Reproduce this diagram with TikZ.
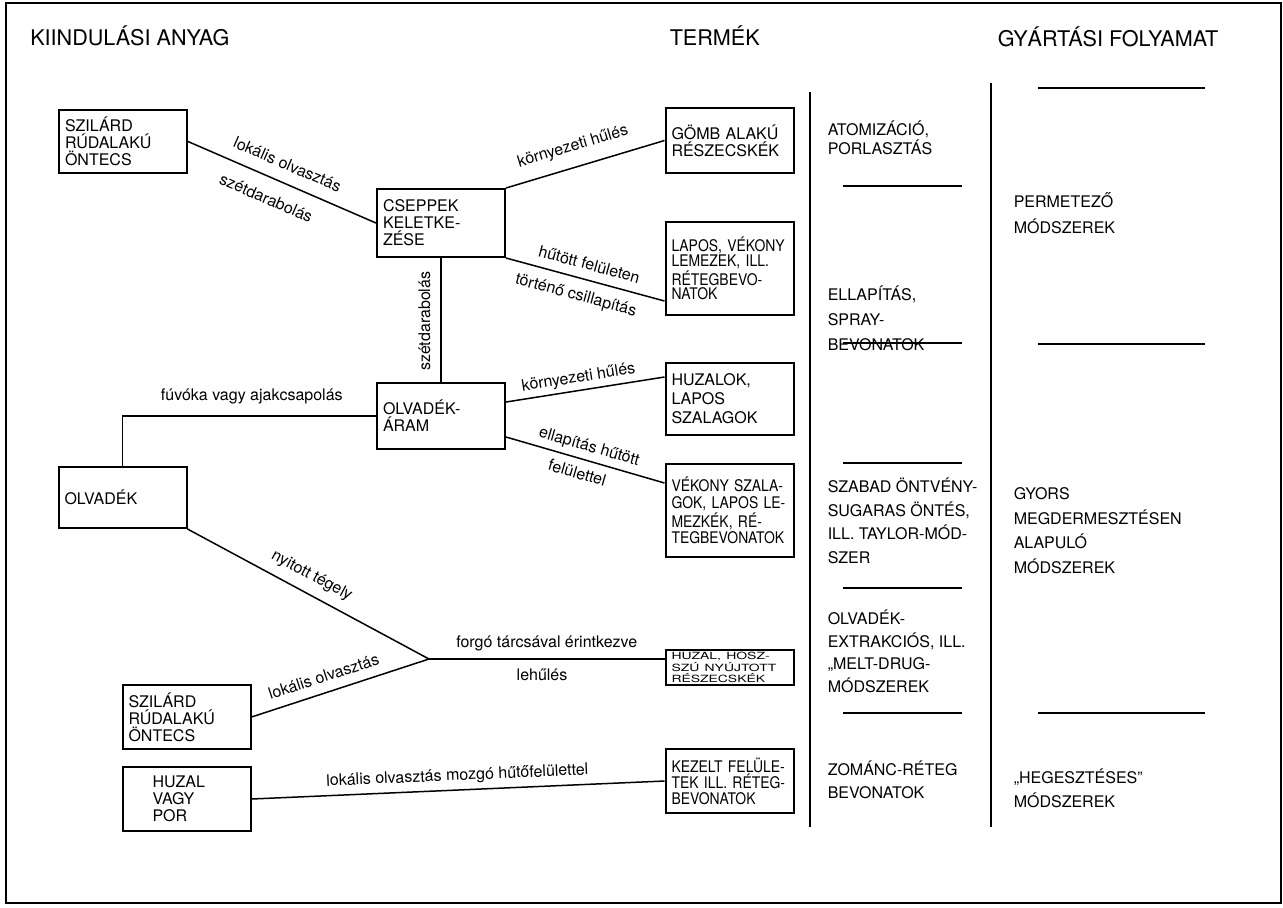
\documentclass[tikz,border=0pt]{standalone}
\usepackage{fontspec}
\setmainfont{TeX Gyre Heros}
\newfontfamily\narrowfont{TeX Gyre Heros}[FakeStretch=0.87]
\usepackage{graphicx}

\newcommand{\labfont}{\fontsize{8}{9}\selectfont}
\newcommand{\boxfont}{\fontsize{8}{8.5}\selectfont}
\newcommand{\headfont}{\fontsize{10.8}{12}\selectfont}

\begin{document}
\begin{tikzpicture}[x=0.5pt,y=-0.5pt,line width=0.75pt,
  doboz/.style={draw,line width=1pt,inner xsep=3pt,inner ysep=2pt,text width=58pt,align=left,font=\boxfont},
  szuk/.style={doboz,font=\narrowfont\fontsize{8}{#1}\selectfont},
  szuk/.default=8.3pt,
  lab/.style={font=\labfont,inner sep=1pt,sloped},
  cim/.style={font=\headfont,anchor=base west,inner sep=0pt},
  oszlop/.style={align=left,anchor=base west,inner sep=0pt,font=\fontsize{8}{#1}\selectfont},
  oszlop/.default=11.7pt]
  \useasboundingbox (0,0) rectangle (1283,907);
  \draw[line width=1.2pt] (6,3) rectangle (1281,903);

  % headings
  \node[cim] (h1) at (29.5,45) {KIINDULÁSI ANYAG};
  \node[cim] (h2) at (669,45) {TERMÉK};
  \node[cim] (h3) at (997,46) {GYÁRTÁSI FOLYAMAT};

  % starting materials and intermediates
  \node[doboz,minimum height=31.5pt] (szil1) at (123,141.5) {SZILÁRD\\RÚDALAKÚ\\ÖNTECS};
  \node[doboz,minimum height=34pt] (csep) at (441,223) {CSEPPEK\\KELETKE-\\ZÉSE};
  \node[doboz,minimum height=33pt] (aram) at (441,416) {OLVADÉK-\\ÁRAM};
  \node[doboz,minimum height=30.5pt] (olv) at (122.5,497.5) {OLVADÉK};
  \node[doboz,minimum height=32pt] (szil2) at (186.5,717) {SZILÁRD\\RÚDALAKÚ\\ÖNTECS};
  \node[doboz,minimum height=32pt] (huzpor) at (186.5,799)
    {\hspace*{12pt}HUZAL\\\hspace*{12pt}VAGY\\\hspace*{12pt}POR};
  \coordinate (jn) at (429,659);

  % products
  \node[doboz,minimum height=32.5pt] (gomb) at (729.5,140.5) {GÖMB ALAKÚ\\RÉSZECSKÉK};
  \node[szuk=7.3pt,minimum height=46.5pt] (lapos) at (729.5,268.5) {LAPOS, VÉKONY\\LEMEZEK, ILL.\\RÉTEGBEVO-\\NATOK};
  \node[doboz,minimum height=36pt,font=\fontsize{8}{9.5}\selectfont] (huzalok) at (729.5,399) {HUZALOK,\\LAPOS\\SZALAGOK};
  \node[szuk,minimum height=46.5pt] (vekony) at (729.5,510.5) {VÉKONY SZALA-\\GOK, LAPOS LE-\\MEZKÉK, RÉ-\\TEGBEVONATOK};
  \node[doboz,minimum height=17.5pt,inner ysep=0pt] (huzal) at (729.5,667.5)
    {\scalebox{1}[0.62]{\parbox{58pt}{\narrowfont\fontsize{8}{5.8}\selectfont HUZAL, HOSZ-\\SZÚ NYÚJTOTT\\RÉSZECSKÉK}}};
  \node[szuk=8pt,minimum height=32pt] (kezelt) at (729.5,781) {KEZELT FELÜLE-\\TEK ILL. RÉTEG-\\BEVONATOK};

  % connectors
  \draw (szil1.east) -- (csep.west)
    node[lab,pos=0.49,above=5pt] {lokális olvasztás}
    node[lab,pos=0.46,below=6pt] {szétdarabolás};
  \draw (csep.north east) -- (gomb.west)
    node[lab,pos=0.46,above=5pt] {környezeti hűlés};
  \draw (csep.south east) -- ([yshift=7.5pt]lapos.south west)
    node[lab,pos=0.5,above=3.5pt] {hűtött felületen}
    node[lab,pos=0.47,below=4pt] {történő csillapítás};
  \draw (aram.north) -- (csep.south)
    node[lab,pos=0.49,above=4pt] {szétdarabolás};
  \draw (olv.north) |- (aram.west)
    node[lab,pos=0.755,above=4.5pt] {fúvóka vagy ajakcsapolás};
  \draw ([yshift=7pt]aram.east) -- ([yshift=11pt]huzalok.west)
    node[lab,pos=0.47,above=1pt] {környezeti hűlés};
  \draw ([yshift=-10.5pt]aram.east) -- ([yshift=13.75pt]vekony.west)
    node[lab,pos=0.5,above=1.5pt] {ellapítás hűtött}
    node[lab,pos=0.475,below=2.8pt] {felülettel};
  \draw (olv.south east) -- (jn)
    node[lab,pos=0.48,above=3.6pt] {nyitott tégely};
  \draw (szil2.east) -- (jn)
    node[lab,pos=0.435,above=3.7pt] {lokális olvasztás};
  \draw (jn) -- (jn -| huzal.west)
    node[lab,pos=0.5,above=2.7pt] {forgó tárcsával érintkezve}
    node[lab,pos=0.48,below=3.6pt] {lehűlés};
  \draw (huzpor.east) -- (kezelt.west)
    node[lab,pos=0.5,above=1.7pt] {lokális olvasztás mozgó hűtőfelülettel};

  % process columns
  \draw (810,92) -- (810,827);
  \draw (991,83) -- (991,827);
  \foreach \y in {186,343,463,588,713} {\draw (843,\y) -- (962,\y);}
  \foreach \y in {88,344,713} {\draw (1038,\y) -- (1205,\y);}

  % texts sit on the baseline of their last line
  \node[oszlop=9.5pt] (p1) at (827,154) {ATOMIZÁCIÓ,\\PORLASZTÁS};
  \node[oszlop=12.5pt] (p2) at (827,350) {ELLAPÍTÁS,\\SPRAY-\\BEVONATOK};
  \node[oszlop=11.75pt] (p3) at (827,563) {SZABAD ÖNTVÉNY-\\SUGARAS ÖNTÉS,\\ILL. TAYLOR-MÓD-\\SZER};
  \node[oszlop=11.25pt] (p4) at (827,692) {OLVADÉK-\\EXTRAKCIÓS, ILL.\\„MELT-DRUG-\\MÓDSZEREK};
  \node[oszlop=11.5pt] (p5) at (827,798) {ZOMÁNC-RÉTEG\\BEVONATOK};
  \node[oszlop=13pt] (m1) at (1013,233) {PERMETEZŐ\\MÓDSZEREK};
  \node[oszlop=12.2pt] (m2) at (1013,573) {GYORS\\MEGDERMESZTÉSEN\\ALAPULÓ\\MÓDSZEREK};
  \node[oszlop=12pt] (m3) at (1013,807) {„HEGESZTÉSES”\\MÓDSZEREK};
\end{tikzpicture}
\end{document}
